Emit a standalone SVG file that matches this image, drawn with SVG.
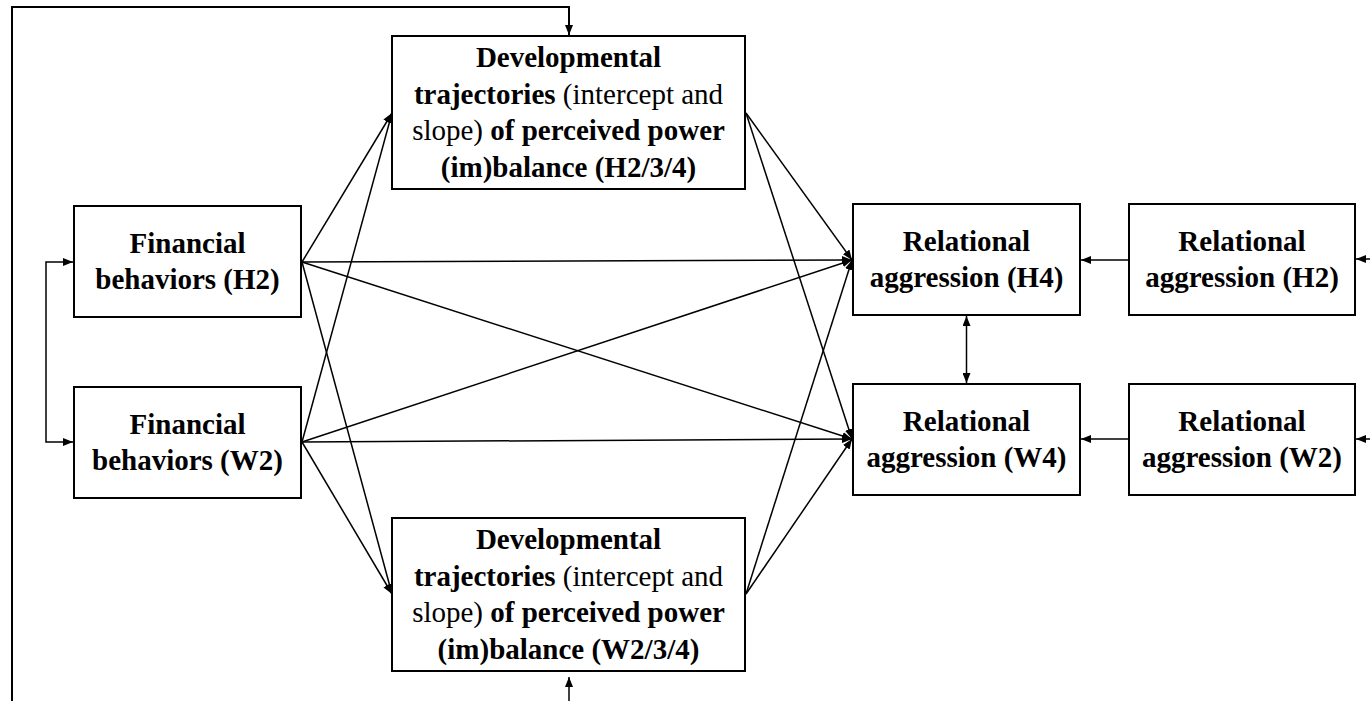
<svg xmlns="http://www.w3.org/2000/svg" width="1370" height="701" viewBox="0 0 1370 701">
<style>
.box{fill:#fff;stroke:#000;stroke-width:2}
.t{font-size:29px;font-weight:700;fill:#000;text-anchor:middle}
.n{font-weight:400}
.c{fill:none;stroke:#000;stroke-width:1.5}
.o{fill:none;stroke:#000;stroke-width:2}
</style>
<defs>
<marker id="ah" viewBox="0 0 10 8" refX="10" refY="4" markerWidth="10" markerHeight="8" markerUnits="userSpaceOnUse" orient="auto">
<path d="M0,0 L10,4 L0,8 z" fill="#000"/>
</marker>
<marker id="ahs" viewBox="0 0 10 8" refX="10" refY="4" markerWidth="10" markerHeight="8" markerUnits="userSpaceOnUse" orient="auto-start-reverse">
<path d="M0,0 L10,4 L0,8 z" fill="#000"/>
</marker>
</defs>
<rect width="1370" height="701" fill="#fff"/>
<g id="connectors">
<path class="o" d="M12,701 V7 H569 V35" marker-end="url(#ah)"/>
<path class="c" d="M569,701 V677" marker-end="url(#ah)"/>
<path class="c" d="M46,352 V262 H73" marker-end="url(#ah)"/>
<path class="c" d="M46,352 V442 H73" marker-end="url(#ah)"/>
<line class="c" x1="302" y1="262" x2="392" y2="113" marker-end="url(#ah)"/>
<line class="c" x1="302" y1="262" x2="392" y2="594" marker-end="url(#ah)"/>
<line class="c" x1="302" y1="262" x2="852" y2="260" marker-end="url(#ah)"/>
<line class="c" x1="302" y1="262" x2="852" y2="439" marker-end="url(#ah)"/>
<line class="c" x1="302" y1="442" x2="392" y2="113" marker-end="url(#ah)"/>
<line class="c" x1="302" y1="442" x2="392" y2="594" marker-end="url(#ah)"/>
<line class="c" x1="302" y1="442" x2="852" y2="260" marker-end="url(#ah)"/>
<line class="c" x1="302" y1="442" x2="852" y2="439" marker-end="url(#ah)"/>
<line class="c" x1="746" y1="113" x2="852" y2="260" marker-end="url(#ah)"/>
<line class="c" x1="746" y1="113" x2="852" y2="439" marker-end="url(#ah)"/>
<line class="c" x1="746" y1="594" x2="852" y2="260" marker-end="url(#ah)"/>
<line class="c" x1="746" y1="594" x2="852" y2="439" marker-end="url(#ah)"/>
<line class="c" x1="1129" y1="260" x2="1081" y2="260" marker-end="url(#ah)"/>
<line class="c" x1="1129" y1="439" x2="1081" y2="439" marker-end="url(#ah)"/>
<line class="c" x1="1370" y1="259" x2="1356" y2="259" marker-end="url(#ah)"/>
<line class="c" x1="1370" y1="439" x2="1356" y2="439" marker-end="url(#ah)"/>
<line class="c" x1="966.5" y1="316" x2="966.5" y2="383" marker-start="url(#ahs)" marker-end="url(#ah)"/>
</g>
<g font-family="Liberation Serif, Times New Roman, serif">
<g id="ppb-h">
<rect class="box" x="392" y="36" width="353" height="153"/>
<text class="t" x="568.5" y="67">Developmental</text>
<text class="t" x="568.5" y="103.5">trajectories<tspan class="n"> (intercept and</tspan></text>
<text class="t" x="568.5" y="140"><tspan class="n">slope)</tspan> of perceived power</text>
<text class="t" x="568.5" y="176.5">(im)balance (H2/3/4)</text>
</g>
<g id="ppb-w">
<rect class="box" x="392" y="518" width="353" height="153"/>
<text class="t" x="568.5" y="549">Developmental</text>
<text class="t" x="568.5" y="585.5">trajectories<tspan class="n"> (intercept and</tspan></text>
<text class="t" x="568.5" y="622"><tspan class="n">slope)</tspan> of perceived power</text>
<text class="t" x="568.5" y="658.5">(im)balance (W2/3/4)</text>
</g>
<g id="fb-h2">
<rect class="box" x="74" y="206" width="227" height="111"/>
<text class="t" x="187.5" y="253">Financial</text>
<text class="t" x="187.5" y="289">behaviors (H2)</text>
</g>
<g id="fb-w2">
<rect class="box" x="74" y="387" width="227" height="111"/>
<text class="t" x="187.5" y="434">Financial</text>
<text class="t" x="187.5" y="470">behaviors (W2)</text>
</g>
<g id="ra-h4">
<rect class="box" x="853" y="204" width="227" height="111"/>
<text class="t" x="966.5" y="251">Relational</text>
<text class="t" x="966.5" y="287">aggression (H4)</text>
</g>
<g id="ra-w4">
<rect class="box" x="853" y="384" width="227" height="111"/>
<text class="t" x="966.5" y="431">Relational</text>
<text class="t" x="966.5" y="467">aggression (W4)</text>
</g>
<g id="ra-h2">
<rect class="box" x="1129" y="204" width="226" height="111"/>
<text class="t" x="1242" y="251">Relational</text>
<text class="t" x="1242" y="287">aggression (H2)</text>
</g>
<g id="ra-w2">
<rect class="box" x="1129" y="384" width="226" height="111"/>
<text class="t" x="1242" y="431">Relational</text>
<text class="t" x="1242" y="467">aggression (W2)</text>
</g>
</g>
</svg>
